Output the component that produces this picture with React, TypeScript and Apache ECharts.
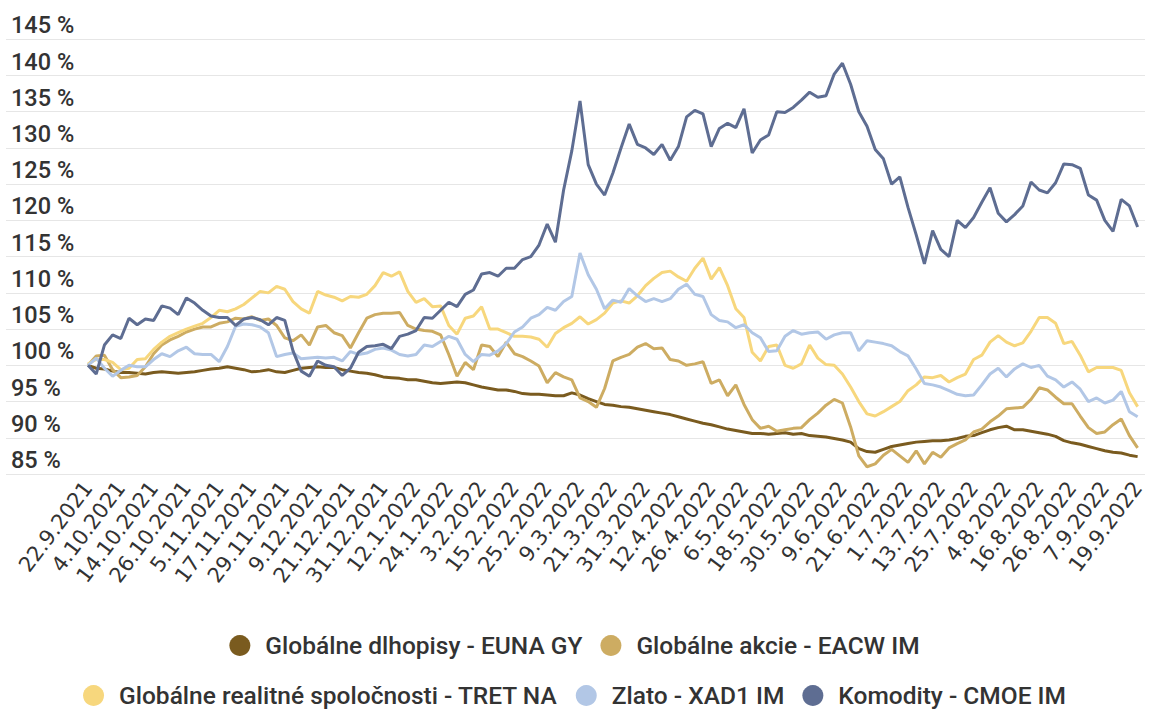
import React, { useEffect, useRef } from "react";
import * as echarts from "echarts";

const tickLabels = ["22.9.2021","4.10.2021","14.10.2021","26.10.2021","5.11.2021","17.11.2021","29.11.2021","9.12.2021","21.12.2021","31.12.2021","12.1.2022","24.1.2022","3.2.2022","15.2.2022","25.2.2022","9.3.2022","21.3.2022","31.3.2022","12.4.2022","26.4.2022","6.5.2022","18.5.2022","30.5.2022","9.6.2022","21.6.2022","1.7.2022","13.7.2022","25.7.2022","4.8.2022","16.8.2022","26.8.2022","7.9.2022","19.9.2022"];

const seriesNames = [
  "Globálne dlhopisy - EUNA GY",
  "Globálne akcie - EACW IM",
  "Globálne realitné spoločnosti - TRET NA",
  "Zlato - XAD1 IM",
  "Komodity - CMOE IM",
];

// values sampled every 2 trading days (index step 2), in %
const dlhopisy = [100, 99.6, 99.5, 99.2, 99, 99, 98.9, 98.8, 99, 99.1,
  99, 98.9, 99, 99.1, 99.3, 99.5, 99.6, 99.8, 99.6, 99.4,
  99.1, 99.2, 99.4, 99.1, 99, 99.3, 99.6, 99.7, 99.8, 99.7,
  99.7, 99.4, 99.2, 99, 98.9, 98.7, 98.4, 98.3, 98.2, 98,
  98, 97.8, 97.6, 97.5, 97.6, 97.7, 97.6, 97.3, 97, 96.8,
  96.6, 96.6, 96.4, 96.1, 96, 96, 95.9, 95.8, 95.8, 96.2,
  95.9, 95.4, 95, 94.6, 94.5, 94.3, 94.2, 94, 93.8, 93.6,
  93.4, 93.2, 92.9, 92.6, 92.3, 92, 91.8, 91.5, 91.2, 91,
  90.8, 90.6, 90.6, 90.5, 90.6, 90.7, 90.5, 90.6, 90.3, 90.2,
  90.1, 89.9, 89.7, 89.4, 88.5, 88.1, 88, 88.4, 88.8, 89,
  89.2, 89.4, 89.5, 89.6, 89.6, 89.7, 89.9, 90.2, 90.3, 90.7,
  91.1, 91.4, 91.6, 91.1, 91.1, 90.9, 90.7, 90.5, 90.2, 89.6,
  89.3, 89.1, 88.8, 88.5, 88.2, 88, 87.9, 87.6, 87.4];

const akcie = [100, 101.3, 101.4, 99.4, 98.3, 98.4, 98.6, 99.8, 101.6, 102.8,
  103.5, 104, 104.6, 105, 105.3, 105.3, 105.8, 106, 106.5, 106.4,
  106.7, 106.2, 106.4, 105.5, 103.8, 103.4, 104.2, 102.8, 105.3, 105.5,
  104.5, 104.1, 102.4, 104.5, 106.5, 107, 107.2, 107.2, 107.3, 105.5,
  105, 104.8, 104.7, 104.2, 101.5, 98.5, 100.4, 99.4, 102.8, 102.6,
  101.2, 103.2, 101.6, 101.2, 100.6, 99.9, 97.6, 99, 98.4, 98,
  95.5, 95, 94.2, 96.8, 100.6, 101.1, 101.5, 102.5, 103, 102.3,
  102.4, 100.8, 100.6, 100, 100.2, 100.5, 97.5, 98, 95.8, 97.3,
  94.6, 92.5, 91.3, 91.6, 90.9, 91.1, 91.3, 91.4, 92.5, 93.4,
  94.5, 95.3, 94.8, 91.5, 87.5, 86, 86.4, 87.6, 88.4, 87.5,
  86.6, 88.2, 86.4, 88, 87.3, 88.6, 89.2, 89.7, 90.8, 91.2,
  92.2, 93, 94, 94.1, 94.2, 95.3, 96.9, 96.6, 95.6, 94.7,
  94.7, 93, 91.4, 90.6, 90.8, 91.8, 92.6, 90.3, 88.6];

const realitne = [100.2, 100.8, 100.8, 100.4, 99.4, 99.6, 100.8, 100.9, 102.2, 103.2,
  104, 104.5, 105, 105.4, 105.8, 106.6, 107.6, 107.4, 107.8, 108.4,
  109.3, 110.2, 110, 110.9, 110.5, 108.8, 107.8, 107.2, 110.2, 109.7,
  109.4, 108.9, 109.5, 109.4, 109.8, 111, 112.8, 112.3, 112.9, 110.2,
  108.7, 109.2, 108.1, 108.2, 105.5, 104.3, 106.5, 106.8, 108.1, 105,
  105, 104.5, 104, 104, 103.9, 103.6, 102.5, 104.4, 105.2, 105.8,
  106.7, 105.7, 106.3, 107.2, 108.6, 108.9, 108.6, 109.6, 111, 112,
  112.8, 113, 112.2, 111.6, 113.4, 114.8, 111.9, 113.5, 111, 107.8,
  106.6, 101.8, 100.6, 102.6, 102.8, 100, 99.6, 100.2, 102.8, 101,
  100.1, 100, 98.8, 97, 95, 93.3, 93, 93.6, 94.3, 95,
  96.5, 97.3, 98.4, 98.3, 98.6, 97.7, 98.3, 98.8, 100.8, 101.4,
  103.2, 104.1, 103.2, 102.7, 103.1, 104.7, 106.6, 106.6, 105.8, 103,
  103.3, 101.4, 99.1, 99.7, 99.7, 99.7, 99.3, 96.2, 94.3];

const zlato = [100, 101, 99.6, 98.5, 99.3, 100, 99.8, 99.8, 100.8, 101.6,
  101.2, 102, 102.5, 101.6, 101.5, 101.5, 100.5, 102.6, 105.4, 105.7,
  105.6, 105.3, 104.5, 101.2, 101.5, 101.7, 100.9, 101, 101.1, 101,
  101.1, 100.6, 101.9, 101.5, 101.7, 102.2, 102.4, 102.1, 101.5, 101.3,
  101.5, 102.8, 102.6, 103.3, 104, 103.6, 101.5, 100.5, 101.5, 101.4,
  102, 103, 104.6, 105.3, 106.5, 107, 108, 107.6, 108.8, 109.5,
  115.5, 112.5, 110.5, 107.8, 109, 108.7, 110.6, 109.6, 108.8, 109.2,
  108.8, 109.2, 110.5, 111.2, 109.8, 109.5, 107, 106.2, 106, 105.2,
  105.6, 104.5, 103.8, 101.9, 102, 104, 104.8, 104.3, 104.5, 104.6,
  103.6, 104.2, 104.5, 104.5, 102, 103.4, 103.2, 103, 102.7, 101.9,
  101.3, 99.5, 97.5, 97.3, 97, 96.5, 96, 95.8, 95.9, 97.3,
  98.8, 99.6, 98.4, 99.5, 100.2, 99.7, 100, 98.5, 98, 97,
  97.7, 96.7, 95, 95.5, 94.8, 95.2, 96.4, 93.6, 92.9];

const komodity = [100, 98.8, 102.8, 104.2, 103.7, 106.5, 105.6, 106.4, 106.2, 108.2,
  107.9, 107, 109.3, 108.6, 107.6, 106.8, 106.6, 106.6, 105.5, 106.4,
  106.6, 106.3, 105.6, 106.6, 106.2, 102, 99.2, 98.5, 100.6, 100,
  99.8, 98.6, 99.6, 101.8, 102.6, 102.7, 102.9, 102.3, 104, 104.3,
  104.8, 106.6, 106.5, 107.6, 108.7, 108.1, 109.8, 110.4, 112.6, 112.8,
  112.3, 113.4, 113.4, 114.6, 115, 116.6, 119.5, 117, 124.2, 129.6,
  136.5, 127.7, 125, 123.5, 126.5, 130, 133.3, 130.5, 130, 129.1,
  130.5, 128.3, 130.2, 134.3, 135.2, 134.7, 130.2, 132.7, 133.4, 132.8,
  135.4, 129.3, 131.1, 131.8, 135, 134.9, 135.6, 136.6, 137.7, 137,
  137.2, 140.2, 141.7, 138.8, 135, 133, 129.8, 128.5, 125, 126,
  121.8, 118, 114, 118.6, 116, 115, 120, 119, 120.4, 122.5,
  124.5, 121, 119.8, 120.8, 122, 125.3, 124.2, 123.8, 125.2, 127.8,
  127.7, 127.2, 123.5, 122.8, 120, 118.5, 122.9, 122, 119.1];

const colors = ["#7a5b1f", "#cdac62", "#f7d77d", "#b2c7e6", "#5e6d92"];
const allValues = [dlhopisy, akcie, realitne, zlato, komodity];
const STEP = 2;
const LABEL_EVERY = 8;

export default function App() {
  const ref = useRef<HTMLDivElement>(null);
  useEffect(() => {
    if (!ref.current) return;
    const chart = echarts.init(ref.current, null, { renderer: "svg" });
    const textBase = { fontFamily: "Roboto", color: "#333" };
    const legendCommon = {
      left: "center",
      icon: "circle",
      itemWidth: 21,
      itemHeight: 21,
      itemGap: 18,
      textStyle: { ...textBase, fontSize: 24.5, fontWeight: 500, padding: [0, 0, 0, 10] },
    };
    chart.setOption({
      animation: false,
      grid: { left: 6, right: 4, top: 39.3, bottom: 236 },
      xAxis: {
        type: "value",
        min: -20,
        max: 257.8,
        interval: 4,
        axisLine: { show: false },
        axisTick: { show: false },
        splitLine: { show: false },
        axisLabel: {
          fontFamily: "DejaVu Sans",
          color: "#333",
          rotate: 53,
          fontSize: 21,
          margin: 10,
          formatter: (v: number) => {
            if (v < 0 || Math.abs(v - Math.round(v)) > 1e-6) return "";
            const r = Math.round(v);
            if (r % LABEL_EVERY !== 0) return "";
            const i = r / LABEL_EVERY;
            return tickLabels[i] ?? "";
          },
        },
      },
      yAxis: {
        type: "value",
        min: 85,
        max: 145,
        interval: 5,
        axisLine: { show: false },
        axisTick: { show: false },
        splitLine: { lineStyle: { color: "#e6e6e6", width: 1 } },
        axisLabel: {
          ...textBase,
          inside: true,
          verticalAlign: "bottom",
          margin: 5,
          fontSize: 23.5,
          fontWeight: 500,
          padding: [0, 0, 2, 0],
          formatter: "{value} %",
        },
      },
      legend: [
        { ...legendCommon, top: 628, data: [seriesNames[0], seriesNames[1]] },
        { ...legendCommon, top: 678, data: [seriesNames[2], seriesNames[3], seriesNames[4]] },
      ],
      series: allValues.map((vals, s) => ({
        name: seriesNames[s],
        type: "line",
        showSymbol: false,
        symbol: "none",
        color: colors[s],
        lineStyle: { width: 3, color: colors[s] },
        data: vals.map((v, k) => [k * STEP, v]),
      })),
    });
    return () => chart.dispose();
  }, []);
  return (
    <div
      ref={ref}
      style={{ position: "fixed", left: 0, top: 0, width: 1149, height: 710, background: "#fff" }}
    />
  );
}
